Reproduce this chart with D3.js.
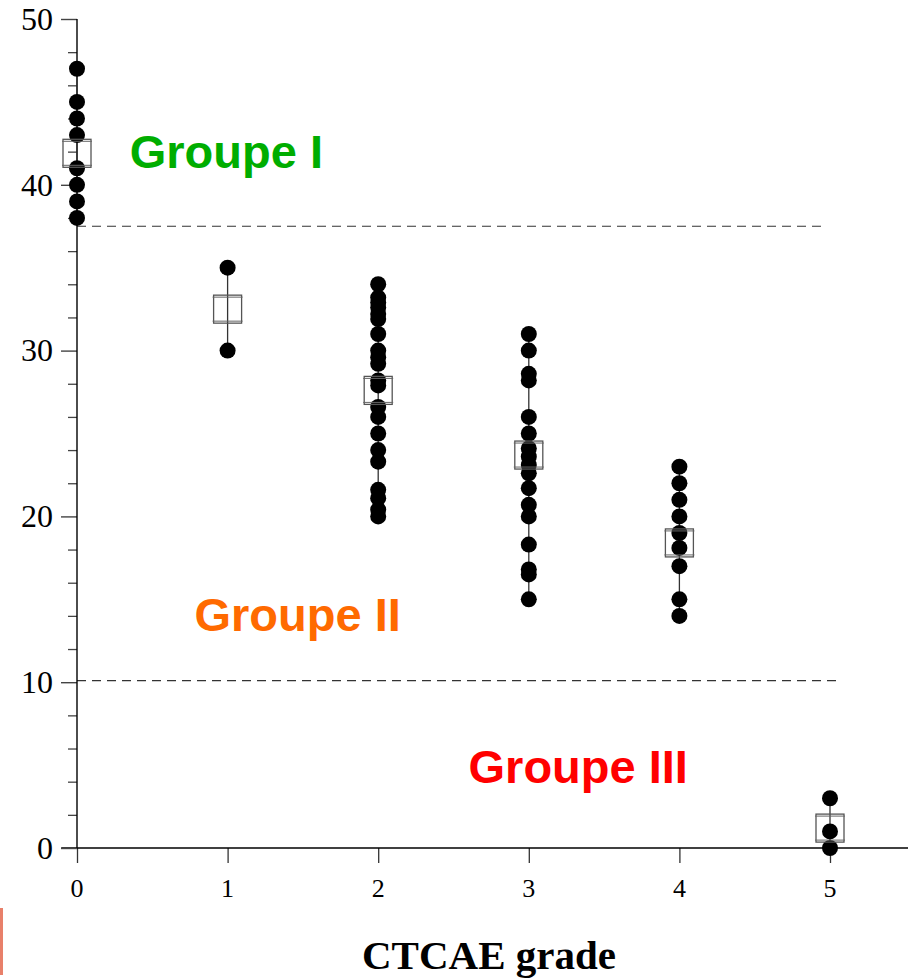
<!DOCTYPE html>
<html>
<head>
<meta charset="utf-8">
<script src="https://cdn.jsdelivr.net/npm/d3@7"></script>
<style>
  html, body { margin: 0; padding: 0; background: #fff; }
  svg { display: block; }
</style>
</head>
<body>
<svg id="chart" width="908" height="980"></svg>
<script>
// ---- Data ----
const grades = [0, 1, 2, 3, 4, 5];
const xTickLabels = ["0", "1", "2", "3", "4", "5"];
const yTickLabels = [0, 10, 20, 30, 40, 50];
const yMinorTicks = [2,4,6,8,12,14,16,18,22,24,26,28,32,34,36,38,42,44,46,48];

const grade0 = [47, 45, 44, 43, 41, 40, 39, 38];
const grade1 = [35, 30];
const grade2 = [34, 33.2, 32.9, 32.6, 32.2, 31.9, 31, 30, 29.6, 29.2, 28.2, 27.9, 26.6, 26, 25, 24, 23.3, 21.6, 21.1, 20.4, 20];
const grade3 = [31, 30, 28.6, 28.2, 26, 25, 24.1, 23.6, 23.1, 22.6, 21.7, 20.7, 20, 18.3, 16.8, 16.5, 15];
const grade4 = [23, 22, 21, 20, 19, 18.1, 17, 15, 14];
const grade5 = [3, 1, 0];
const groupValues = [grade0, grade1, grade2, grade3, grade4, grade5];
const groupMeans = [41.9, 32.5, 27.6, 23.7, 18.4, 1.2];

const thresholds = [37.5, 10.1];
const thresholdEnds = [4.94, 5.07];
const groupLabels = ["Groupe I", "Groupe II", "Groupe III"];
const groupColors = ["#00ad00", "#ff6a00", "#ff0000"];
const groupLabelPos = [[0.35, 41.0], [0.78, 13.1], [2.6, 3.9]];
const xTitle = "CTCAE grade";

// ---- Layout ----
const svg = d3.select("#chart");
const x = d3.scaleLinear().domain([0, 5]).range([77, 830]);
const y = d3.scaleLinear().domain([0, 50]).range([848, 19]);
const serif = "'Liberation Serif', 'Times New Roman', serif";
const sans = "'Liberation Sans', Arial, sans-serif";

// threshold dashed lines
svg.selectAll("line.thr").data(thresholds).join("line")
  .attr("x1", x(0)).attr("x2", (d, i) => x(thresholdEnds[i]))
  .attr("y1", d => y(d)).attr("y2", d => y(d))
  .attr("stroke", "#333").attr("stroke-width", 1.2)
  .attr("stroke-dasharray", "9,6");

// X axis
const xAxis = d3.axisBottom(x).tickValues(grades).tickSize(15).tickFormat("");
const gx = svg.append("g").attr("transform", `translate(0,${y(0)})`).call(xAxis);
gx.select(".domain").remove();
gx.selectAll(".tick line").attr("stroke", "#333").attr("stroke-width", 1.3);
svg.append("line")
  .attr("x1", x(-0.105)).attr("x2", 908)
  .attr("y1", y(0)).attr("y2", y(0))
  .attr("stroke", "#000").attr("stroke-width", 1.4);
svg.selectAll("text.xl").data(grades).join("text")
  .attr("x", d => x(d)).attr("y", 897)
  .attr("text-anchor", "middle")
  .attr("font-family", serif).attr("font-size", 26)
  .text((d, i) => xTickLabels[i]);

// Y axis
const yAxis = d3.axisLeft(y).tickValues(yTickLabels).tickSize(16).tickPadding(8);
const gy = svg.append("g").attr("transform", `translate(${x(0)},0)`).call(yAxis);
gy.select(".domain").remove();
gy.selectAll(".tick line").attr("stroke", "#444").attr("stroke-width", 1.4);
gy.selectAll(".tick text").attr("font-family", serif).attr("font-size", 32).attr("fill", "#000");
const yMinor = d3.axisLeft(y).tickValues(yMinorTicks).tickSize(9).tickFormat("");
const gym = svg.append("g").attr("transform", `translate(${x(0)},0)`).call(yMinor);
gym.select(".domain").remove();
gym.selectAll(".tick line").attr("stroke", "#444").attr("stroke-width", 1.3);
svg.append("line")
  .attr("x1", x(0)).attr("x2", x(0))
  .attr("y1", y(50)).attr("y2", y(0))
  .attr("stroke", "#000").attr("stroke-width", 1.4);

// whiskers (min-max)
svg.selectAll("line.wh").data(groupValues).join("line")
  .attr("x1", (d, i) => x(grades[i])).attr("x2", (d, i) => x(grades[i]))
  .attr("y1", d => y(d3.max(d))).attr("y2", d => y(d3.min(d)))
  .attr("stroke", "#333").attr("stroke-width", 1.3);

// dots
groupValues.forEach((vals, i) => {
  svg.append("g").selectAll("circle").data(vals).join("circle")
    .attr("cx", x(grades[i])).attr("cy", d => y(d)).attr("r", 8)
    .attr("fill", "#000");
});

// mean markers (open squares with caps)
const half = 14;
const mg = svg.append("g").selectAll("g").data(groupMeans).join("g")
  .attr("transform", (d, i) => `translate(${x(grades[i])},${y(d)})`);
mg.append("rect")
  .attr("x", -half).attr("y", -half).attr("width", 2 * half).attr("height", 2 * half)
  .attr("fill", "none").attr("stroke", "#555").attr("stroke-width", 1.3);
mg.append("line").attr("x1", -half - 1).attr("x2", half + 1).attr("y1", -half + 2).attr("y2", -half + 2)
  .attr("stroke", "#666").attr("stroke-width", 1);
mg.append("line").attr("x1", -half - 1).attr("x2", half + 1).attr("y1", half - 2).attr("y2", half - 2)
  .attr("stroke", "#666").attr("stroke-width", 1);

// group labels
svg.selectAll("text.gl").data(groupLabels).join("text")
  .attr("x", (d, i) => x(groupLabelPos[i][0]))
  .attr("y", (d, i) => y(groupLabelPos[i][1]))
  .attr("font-family", sans).attr("font-weight", "bold").attr("font-size", 47)
  .attr("fill", (d, i) => groupColors[i])
  .text(d => d);

// x title
svg.append("text")
  .attr("x", 489).attr("y", 969).attr("text-anchor", "middle")
  .attr("font-family", serif).attr("font-weight", "bold").attr("font-size", 41)
  .text(xTitle);

// small salmon edge mark at bottom-left
svg.append("rect").attr("x", 0).attr("y", 908).attr("width", 3).attr("height", 67)
  .attr("fill", "#e8806a");
</script>
</body>
</html>
